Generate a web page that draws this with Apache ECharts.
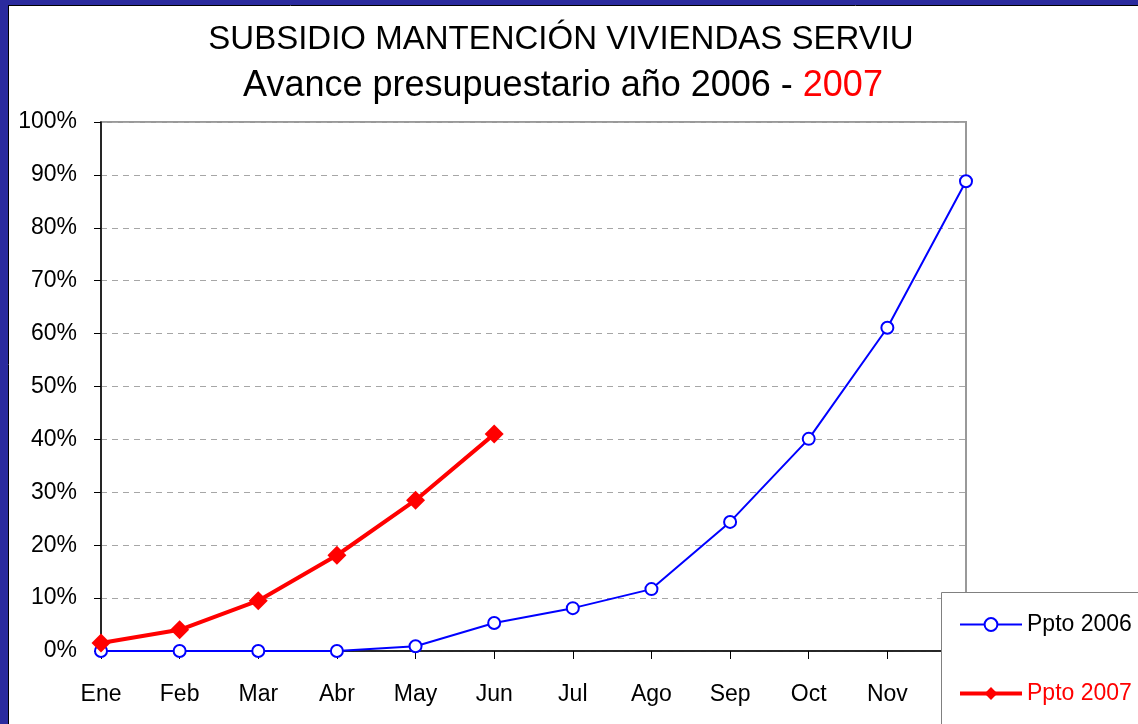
<!DOCTYPE html>
<html>
<head>
<meta charset="utf-8">
<script src="https://cdn.jsdelivr.net/npm/echarts@6/dist/echarts.min.js"></script>
<style>
html,body{margin:0;padding:0;background:#fff;}
#chart{width:1138px;height:724px;}
</style>
</head>
<body>
<div id="chart"></div>
<script>
// meses del eje x
var meses = ['Ene','Feb','Mar','Abr','May','Jun','Jul','Ago','Sep','Oct','Nov','Dic']
// avance acumulado (%)
var ppto2006 = [0, 0, 0, 0, 0.9, 5.3, 8.1, 11.7, 24.4, 40.1, 61.1, 88.8]
var ppto2007 = [1.5, 4.0, 9.5, 18.1, 28.5, 41.0]

var chart = echarts.init(document.getElementById('chart'))
chart.setOption({
  backgroundColor: '#fff',
  textStyle: {fontFamily: 'Liberation Sans, Arial, sans-serif'},
  title: [
    {
      text: 'SUBSIDIO MANTENCIÓN VIVIENDAS SERVIU',
      left: 556, top: 18, textAlign: 'center',
      textStyle: {fontSize: 33, fontWeight: 'normal', color: '#000'}
    },
    {
      text: '{a|Avance presupuestario año 2006 - }{b|2007}',
      left: 558, top: 63, textAlign: 'center',
      textStyle: {
        fontSize: 36, fontWeight: 'normal',
        rich: {
          a: {fontSize: 36, color: '#000'},
          b: {fontSize: 36, color: '#ff0000'}
        }
      }
    }
  ],
  graphic: [
    {type: 'rect', shape: {x: 0, y: 0, width: 1138, height: 5}, style: {fill: '#2b2b9e'}},
    {type: 'rect', shape: {x: 0, y: 0, width: 8, height: 724}, style: {fill: '#2b2b9e'}},
    {type: 'line', shape: {x1: 8, y1: 5.5, x2: 1138, y2: 5.5}, style: {stroke: '#000', lineWidth: 1}},
    {type: 'line', shape: {x1: 8.5, y1: 5, x2: 8.5, y2: 724}, style: {stroke: '#000', lineWidth: 1}},
    // caja de la leyenda, tapa la etiqueta Dic
    {type: 'rect', z: 50, shape: {x: 941.5, y: 592.5, width: 300, height: 200},
      style: {fill: '#fff', stroke: '#808080', lineWidth: 1}}
  ],
  grid: {
    left: 101, right: 172, top: 122, bottom: 73,
    show: true, borderColor: '#999', borderWidth: 2
  },
  legend: {
    orient: 'vertical',
    left: 941, top: 592,
    z: 60,
    padding: [21, 10, 0, 17],
    itemWidth: 62, itemHeight: 16, itemGap: 46,
    textStyle: {fontSize: 23, color: '#000'},
    data: [
      {name: 'Ppto 2006', textStyle: {color: '#000'}, lineStyle: {width: 2}},
      {name: 'Ppto 2007', textStyle: {color: '#ff0000'}, lineStyle: {width: 4}}
    ]
  },
  xAxis: {
    type: 'category',
    boundaryGap: false,
    data: meses,
    axisLine: {lineStyle: {color: '#000', width: 1.5}},
    axisTick: {alignWithLabel: true, length: 8, lineStyle: {color: '#000'}},
    axisLabel: {fontSize: 23, color: '#000', margin: 32}
  },
  yAxis: {
    type: 'value',
    min: 0, max: 100, interval: 10,
    axisLine: {show: true, lineStyle: {color: '#000', width: 1.5}},
    axisTick: {show: true, length: 7, lineStyle: {color: '#000'}},
    axisLabel: {fontSize: 23, color: '#000', margin: 24, formatter: '{value}%'},
    splitLine: {lineStyle: {color: '#a6a6a6', type: [6, 5], width: 1}}
  },
  series: [
    {
      name: 'Ppto 2006',
      type: 'line',
      data: ppto2006,
      symbol: 'emptyCircle',
      symbolSize: 12,
      color: '#0000ff',
      lineStyle: {color: '#0000ff', width: 2},
      itemStyle: {color: '#0000ff', borderWidth: 2},
      z: 3
    },
    {
      name: 'Ppto 2007',
      type: 'line',
      data: ppto2007,
      symbol: 'diamond',
      symbolSize: 19,
      color: '#ff0000',
      lineStyle: {color: '#ff0000', width: 4},
      itemStyle: {color: '#ff0000'},
      z: 4
    }
  ]
})
</script>
</body>
</html>
